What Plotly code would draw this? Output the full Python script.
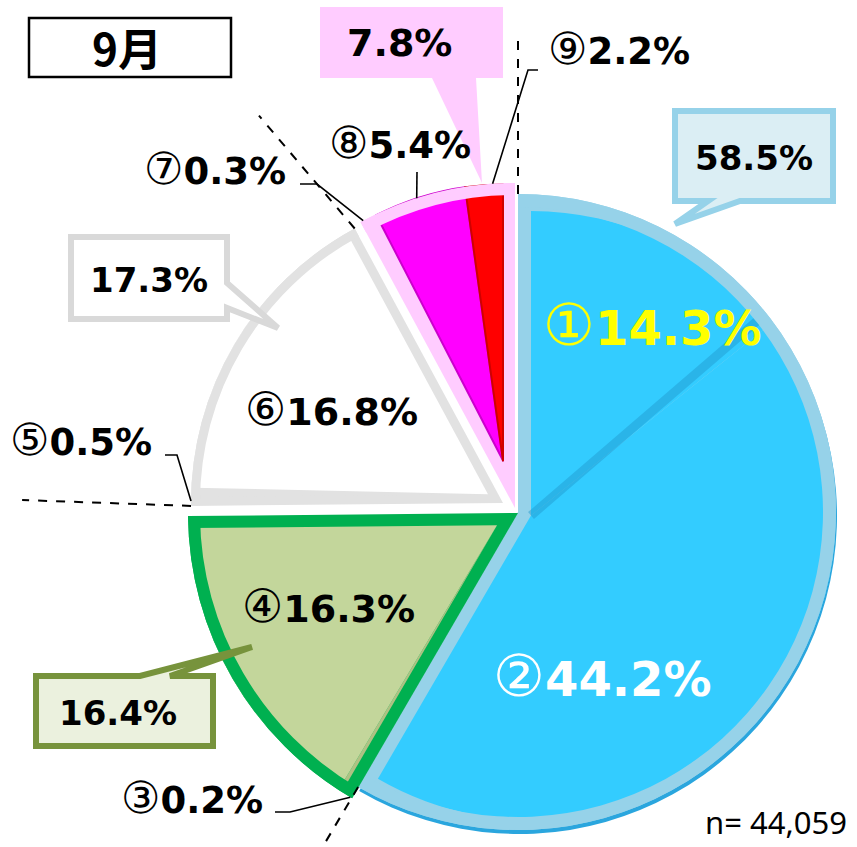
import math
import plotly.graph_objects as go

W, H = 857, 847

# ---------------- data ----------------
slice_marks = ["①", "②", "③", "④", "⑤", "⑥", "⑦", "⑧", "⑨"]
slice_values = [14.3, 44.2, 0.2, 16.3, 0.5, 16.8, 0.3, 5.4, 2.2]
slice_pct_text = ["14.3%", "44.2%", "0.2%", "16.3%", "0.5%", "16.8%", "0.3%", "5.4%", "2.2%"]
group_members = [[0, 1], [2, 3], [4, 5], [6, 7, 8]]
group_pct_text = ["58.5%", "16.4%", "17.3%", "7.8%"]
month_text = "9月"
sample_text = "n= 44,059"

# ---------------- styles ----------------
FONT = "DejaVu Sans, Noto Sans CJK JP, sans-serif"
CLEAR = "rgba(0,0,0,0)"
slice_fill = ["#33CCFF", "#33CCFF", "#AFC183", "#C3D69B", "#E2E2E2",
              "#FFFFFF", "#FFCCFF", "#FF00FF", "#FF0000"]
slice_line = [CLEAR, CLEAR, CLEAR, CLEAR, CLEAR, CLEAR, CLEAR, "#CC00CC", "#D00000"]
slice_line_w = [0, 0, 0, 0, 0, 0, 0, 2, 2]

groups = [
    dict(cx=518, cy=512, r=318, border="#96D2E9", bw=13),
    dict(cx=518, cy=513, r=330, border="#00B050", bw=12),
    dict(cx=503, cy=503, r=312, border="#E2E2E2", bw=9),
    dict(cx=515, cy=508, r=325, border="#FFCCFF", bw=12),
]

# ---------------- geometry helpers ----------------
total = sum(slice_values)
cum = [0.0]
for v in slice_values:
    cum.append(cum[-1] + v)
s_a0 = [cum[i] / total * 360 for i in range(len(slice_values))]
s_a1 = [cum[i + 1] / total * 360 for i in range(len(slice_values))]
s_mid = [(a + b) / 2 for a, b in zip(s_a0, s_a1)]
group_values = [sum(slice_values[i] for i in m) for m in group_members]
group_keys = ["g%d" % k for k in range(len(group_members))]
slice_keys = ["s%d" % k for k in range(len(slice_values))]
group_of = {}
for gi, m in enumerate(group_members):
    for i in m:
        group_of[i] = gi


def vec(b):
    rad = math.radians(b)
    return math.sin(rad), -math.cos(rad)


def pt(cx, cy, rad, b):
    s, c = vec(b)
    return cx + rad * s, cy + rad * c


def dom(cx, cy, r):
    return dict(x=[(cx - r) / W, (cx + r) / W], y=[1 - (cy + r) / H, 1 - (cy - r) / H])


def X(px):
    return px / W


def Y(py):
    return 1 - py / H


def pie(values, labels, colors, cx, cy, r, lc=CLEAR, lw=0, hole=0):
    return go.Pie(values=values, labels=labels, sort=False, direction="clockwise",
                  rotation=0, hole=hole,
                  marker=dict(colors=colors, line=dict(color=lc, width=lw)),
                  domain=dom(cx, cy, r), textinfo="none", hoverinfo="skip",
                  showlegend=False)


def rim(i):
    g = groups[group_of[i]]
    return pt(g["cx"], g["cy"], g["r"], s_mid[i])


fig = go.Figure()

# blue shadow ring
g0 = groups[0]
fig.add_trace(pie(group_values, group_keys,
                  ["#2AA6DE" if k == 0 else CLEAR for k in range(4)],
                  g0["cx"] + 1, g0["cy"] + 4, g0["r"]))

fill_centers = []
for gi, g in enumerate(groups):
    mem = group_members[gi]
    a0, a1 = s_a0[mem[0]], s_a1[mem[-1]]
    half = (a1 - a0) / 2
    bis = (a0 + a1) / 2
    d = g["bw"] / math.sin(math.radians(half))
    # full wedge in border colour
    fig.add_trace(pie(group_values, group_keys,
                      [g["border"] if k == gi else CLEAR for k in range(4)],
                      g["cx"], g["cy"], g["r"]))
    # inset fill wedge (shifted along bisector)
    fcx, fcy = pt(g["cx"], g["cy"], d, bis)
    fill_centers.append((fcx, fcy))
    fig.add_trace(pie(slice_values, slice_keys,
                      [slice_fill[i] if i in mem else CLEAR for i in range(9)],
                      fcx, fcy, g["r"] - d,
                      lc=[slice_line[i] if i in mem else CLEAR for i in range(9)],
                      lw=[slice_line_w[i] if i in mem else 0 for i in range(9)]))
    # outer border ring
    fig.add_trace(pie(group_values, group_keys,
                      [g["border"] if k == gi else CLEAR for k in range(4)],
                      g["cx"], g["cy"], g["r"], hole=(g["r"] - g["bw"]) / g["r"]))

shapes = []


def path(points, close=False):
    s = "M %.5f %.5f" % (X(points[0][0]), Y(points[0][1]))
    for p in points[1:]:
        s += " L %.5f %.5f" % (X(p[0]), Y(p[1]))
    if close:
        s += " Z"
    return s


# divider between slice 1 and 2
fc = fill_centers[0]
end = pt(g0["cx"], g0["cy"], g0["r"] - g0["bw"], s_a1[0])
shapes.append(dict(type="path", xref="paper", yref="paper", path=path([fc, end]),
                   line=dict(color="rgba(30,150,205,0.45)", width=9)))

# dashed marker lines
gw, gg, gb = groups[2], groups[1], groups[0]
dashed = [
    (pt(gb["cx"], gb["cy"], gb["r"], 0), 0, 156),
    (pt(gw["cx"], gw["cy"], gw["r"], s_a1[5]), 319.7, 148),
    (pt(gw["cx"], gw["cy"], gw["r"], s_a0[4]), 272.0, 169),
    (pt(gb["cx"], gb["cy"], gb["r"], s_a0[2]), 210.6, 75),
]
for start, brg, ln in dashed:
    e = (start[0] + ln * vec(brg)[0], start[1] + ln * vec(brg)[1])
    shapes.append(dict(type="path", xref="paper", yref="paper", path=path([start, e]),
                       line=dict(color="black", width=2, dash="dash")))

# leader lines (label side elbows, pie side on slice rim)
leaders = [
    (6, [(300, 184), (317, 184)]),
    (7, [(417, 172)]),
    (8, [(538, 70), (528, 70)]),
    (4, [(165, 455), (177, 455)]),
    (2, [(275, 812), (290, 812)]),
]
for i, pts in leaders:
    shapes.append(dict(type="path", xref="paper", yref="paper", path=path(pts + [rim(i)]),
                       line=dict(color="black", width=1.6)))

# callout boxes
shapes.append(dict(type="path", xref="paper", yref="paper",
                   path=path([(675, 111), (833, 111), (833, 201), (740, 201), (675, 224),
                              (708, 201), (675, 201)], True),
                   fillcolor="#DBEEF4", line=dict(color="#96D2E9", width=6)))
shapes.append(dict(type="path", xref="paper", yref="paper",
                   path=path([(71, 237), (227, 237), (227, 283), (278, 328), (227, 308),
                              (227, 319), (71, 319)], True),
                   fillcolor="#FFFFFF", line=dict(color="#D9D9D9", width=6)))
shapes.append(dict(type="path", xref="paper", yref="paper",
                   path=path([(36, 676), (140, 676), (252, 647), (170, 676), (213, 676),
                              (213, 746), (36, 746)], True),
                   fillcolor="#EBF1DE", line=dict(color="#77933C", width=6)))
shapes.append(dict(type="path", xref="paper", yref="paper",
                   path=path([(320, 7), (503, 7), (503, 78), (476, 78), (482, 183),
                              (432, 78), (320, 78)], True),
                   fillcolor="#FFCCFF", line=dict(width=0)))
shapes.append(dict(type="rect", xref="paper", yref="paper",
                   x0=X(29), x1=X(231), y0=Y(77), y1=Y(18),
                   fillcolor="#FFFFFF", line=dict(color="black", width=2.5)))

annotations = []


def ann(text, x, y, size, color="black", anchor="center", family=FONT):
    annotations.append(dict(text=text, x=X(x), y=Y(y), xref="paper", yref="paper",
                            xanchor=anchor, yanchor="middle", showarrow=False,
                            font=dict(family=family, size=size, color=color)))


def mark_text(i, size):
    return "<span style=\"font-size:%dpx\">%s</span><b>%s</b>" % (
        round(size * 1.2), slice_marks[i], slice_pct_text[i])


inside = {0: (652, 325, 48, "#FFFF00"), 1: (602, 676, 48, "#FFFFFF"),
          3: (328, 606, 38, "black"), 5: (331, 409, 38, "black")}
outside = {6: (215, 168), 7: (400, 143), 8: (619, 48), 4: (81, 440), 2: (192, 797)}
for i, (x, y, s, c) in inside.items():
    ann(mark_text(i, s), x, y, s, c)
for i, (x, y) in outside.items():
    ann(mark_text(i, 37), x, y, 37)

callout_pos = [(754, 158, 34), (118, 713, 34), (149, 280, 34), (399, 43, 38)]
for k, (x, y, s) in enumerate(callout_pos):
    ann("<b>%s</b>" % group_pct_text[k], x, y, s)

ann("<b>%s</b>" % month_text, 127, 47, 44, family="Noto Sans CJK JP, sans-serif")
ann(sample_text, 849, 822, 31, anchor="right", family="Noto Sans, sans-serif")

fig.update_layout(width=W, height=H, margin=dict(l=0, r=0, t=0, b=0),
                  paper_bgcolor="white", plot_bgcolor="white", showlegend=False,
                  shapes=shapes, annotations=annotations)

fig.write_html("out.html", config={"displayModeBar": False},
               post_script="document.body.style.margin='0';"
                           "document.documentElement.style.overflow='hidden';")
